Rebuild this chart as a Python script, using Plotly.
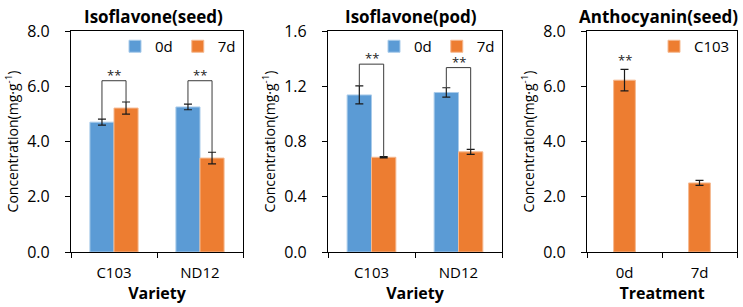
import plotly.graph_objects as go

# ---------------- data ----------------
varieties = ["C103", "ND12"]
seed_0d = [4.70, 5.25]
seed_0d_err = [0.11, 0.10]
seed_7d = [5.21, 3.40]
seed_7d_err = [0.22, 0.21]
seed_sig_top = [6.2, 6.2]

pod_0d = [1.137, 1.155]
pod_0d_err = [0.065, 0.034]
pod_7d = [0.686, 0.725]
pod_7d_err = [0.004, 0.018]
pod_sig_top = [1.36, 1.335]

treatments = ["0d", "7d"]
antho = [6.22, 2.50]
antho_err = [0.39, 0.09]
antho_sig = ["**", ""]

seed_ticks = [0.0, 2.0, 4.0, 6.0, 8.0]
pod_ticks = [0.0, 0.4, 0.8, 1.2, 1.6]

BLUE = "#5B9BD5"
ORANGE = "#ED7D31"
FONT = "Open Sans"

W, H = 743, 307
fig = go.Figure()

def px_x(p):
    return p / W

def px_y(p):
    return 1 - p / H

doms = [(71, 243), (328, 502), (587, 737)]
ydom = [px_y(252), px_y(31)]

err_style = dict(type="data", color="#1a1a1a", thickness=1.2, width=4, visible=True)

pos = list(range(len(varieties)))

def add_group(idx, v0, e0, v7, e7, legend):
    xa = "x" if idx == 1 else f"x{idx}"
    ya = "y" if idx == 1 else f"y{idx}"
    fig.add_trace(go.Bar(x=pos, y=v0, name="0d", marker=dict(color=BLUE, line=dict(color="#A9CBEA", width=1)),
                         error_y=dict(array=e0, **err_style), xaxis=xa, yaxis=ya, legend=legend))
    fig.add_trace(go.Bar(x=pos, y=v7, name="7d", marker=dict(color=ORANGE, line=dict(color="#F5B990", width=1)),
                         error_y=dict(array=e7, **err_style), xaxis=xa, yaxis=ya, legend=legend))

add_group(1, seed_0d, seed_0d_err, seed_7d, seed_7d_err, "legend")
add_group(2, pod_0d, pod_0d_err, pod_7d, pod_7d_err, "legend2")

fig.add_trace(go.Bar(x=list(range(len(treatments))), y=antho, name="C103",
                     marker=dict(color=ORANGE, line=dict(color="#F5B990", width=1)),
                     error_y=dict(array=antho_err, **err_style), width=0.29,
                     xaxis="x3", yaxis="y3", legend="legend3"))

BARGAP = 0.44
half = (1 - BARGAP) / 4  # center offset of each bar in a 2-bar group

def add_brackets(idx, v0, e0, v7, e7, tops):
    xa = "x" if idx == 1 else f"x{idx}"
    ya = "y" if idx == 1 else f"y{idx}"
    for i in range(len(v0)):
        xl, xr = i - half, i + half
        fig.add_trace(go.Scatter(x=[xl, xl, xr, xr], y=[v0[i] + e0[i], tops[i], tops[i], v7[i] + e7[i]],
                                 mode="lines", line=dict(color="#3a3a3a", width=1),
                                 showlegend=False, hoverinfo="skip", xaxis=xa, yaxis=ya))
        fig.add_annotation(x=i, y=tops[i], xref=xa, yref=ya, text="**", showarrow=False,
                           yanchor="middle", yshift=6, font=dict(family=FONT, size=13, color="#222"))

add_brackets(1, seed_0d, seed_0d_err, seed_7d, seed_7d_err, seed_sig_top)
add_brackets(2, pod_0d, pod_0d_err, pod_7d, pod_7d_err, pod_sig_top)

for i, s in enumerate(antho_sig):
    if s:
        fig.add_annotation(x=i, y=antho[i] + antho_err[i], xref="x3", yref="y3", text=s, showarrow=False,
                           yanchor="middle", yshift=9, font=dict(family=FONT, size=13, color="#222"))

axis_common = dict(showline=True, linecolor="#000", linewidth=1.2, mirror=True, showgrid=False, zeroline=False,
                   automargin=False)

def xaxis_cfg(dom, labels, title, anchor):
    return dict(domain=[px_x(dom[0]), px_x(dom[1])], anchor=anchor, range=[-0.5, len(labels) - 0.5],
                tickmode="array", tickvals=list(range(len(labels))), ticktext=labels, ticks="",
                ticklabelstandoff=7,
                tickfont=dict(family=FONT, size=15, color="#000"),
                minor=dict(ticks="outside", tick0=0.5, dtick=1, ticklen=5, tickcolor="#000", tickwidth=1.3),
                title=dict(text=f"<b>{title}</b>", font=dict(family=FONT, size=16, color="#000"), standoff=0),
                **axis_common)

def yaxis_cfg(tv, anchor):
    return dict(domain=ydom, anchor=anchor, range=[tv[0], tv[-1]], tickmode="array", tickvals=tv,
                ticktext=[f"{v:.1f}" for v in tv],
                ticks="outside", ticklen=5, tickcolor="#000", tickwidth=1.3,
                ticklabelstandoff=12,
                tickfont=dict(family=FONT, size=16, color="#000"),
                title=dict(text="Concentration(mg·g<sup>-1</sup>)", font=dict(family=FONT, size=14, color="#000"),
                           standoff=5),
                **axis_common)

legend_common = dict(orientation="h", font=dict(family=FONT, size=15, color="#000"), bgcolor="rgba(0,0,0,0)",
                     itemwidth=30, xanchor="right", yanchor="top", tracegroupgap=0,
                     itemclick=False, traceorder="normal")

fig.update_layout(
    template="none",
    width=W, height=H, margin=dict(l=0, r=0, t=0, b=0, autoexpand=False),
    paper_bgcolor="white", plot_bgcolor="white",
    barmode="group", bargap=BARGAP, bargroupgap=0,
    xaxis=xaxis_cfg(doms[0], varieties, "Variety", "y"),
    yaxis=yaxis_cfg(seed_ticks, "x"),
    xaxis2=xaxis_cfg(doms[1], varieties, "Variety", "y2"),
    yaxis2=yaxis_cfg(pod_ticks, "x2"),
    xaxis3=xaxis_cfg(doms[2], treatments, "Treatment", "y3"),
    yaxis3=yaxis_cfg(seed_ticks, "x3"),
    legend=dict(x=px_x(241), y=px_y(30), **legend_common),
    legend2=dict(x=px_x(500), y=px_y(30), **legend_common),
    legend3=dict(x=px_x(735), y=px_y(30), **legend_common),
    showlegend=True,
)

titles = ["Isoflavone(seed)", "Isoflavone(pod)", "Anthocyanin(seed)"]
for t, d in zip(titles, doms):
    fig.add_annotation(x=px_x((d[0] + d[1]) / 2 - 4), y=px_y(16), xref="paper", yref="paper", text=f"<b>{t}</b>",
                       showarrow=False, xanchor="center", yanchor="middle",
                       font=dict(family=FONT, size=17, color="#000"))

fig.write_html("out.html", config={"displayModeBar": False},
               post_script="document.body.style.margin='0';document.body.style.overflow='hidden';")
